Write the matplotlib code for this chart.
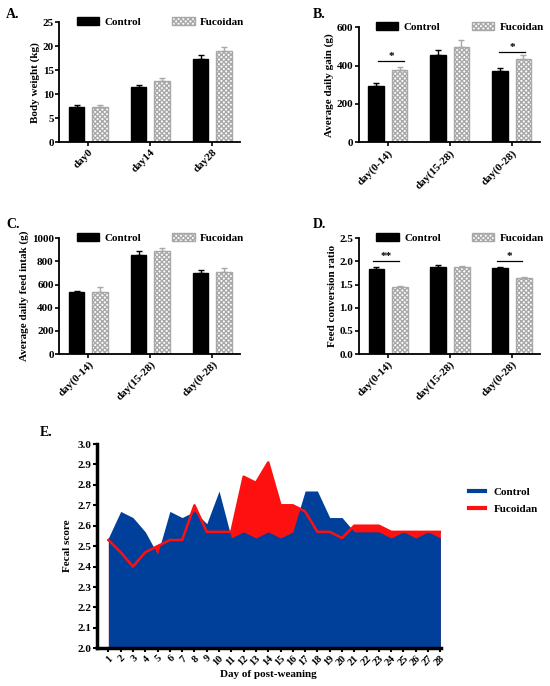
import numpy as np
import matplotlib
matplotlib.use('Agg')
import matplotlib.pyplot as plt
from matplotlib.patches import Patch
from matplotlib.lines import Line2D

plt.rcParams['font.family'] = ['Liberation Serif', 'DejaVu Serif']
plt.rcParams['font.weight'] = 'bold'
plt.rcParams['axes.labelweight'] = 'bold'
plt.rcParams['hatch.linewidth'] = 1.0

# bar panels
periods = ['day(0-14)', 'day(15-28)', 'day(0-28)']
bw_days = ['day0', 'day14', 'day28']

bw_ctrl = [7.4, 11.6, 17.4]
bw_ctrl_err = [0.3, 0.3, 0.7]
bw_fuc = [7.4, 12.7, 19.1]
bw_fuc_err = [0.3, 0.6, 0.8]

adg_ctrl = [295, 456, 371]
adg_ctrl_err = [17, 24, 19]
adg_fuc = [376, 497, 433]
adg_fuc_err = [19, 35, 23]

adfi_ctrl = [537, 856, 697]
adfi_ctrl_err = [5, 37, 26]
adfi_fuc = [539, 890, 712]
adfi_fuc_err = [37, 29, 29]

fcr_ctrl = [1.83, 1.89, 1.86]
fcr_ctrl_err = [0.06, 0.04, 0.02]
fcr_fuc = [1.45, 1.88, 1.64]
fcr_fuc_err = [0.03, 0.02, 0.03]

# fecal score
days = list(range(1, 29))
ctrl_score = [2.54, 2.67, 2.64, 2.57, 2.46, 2.67, 2.64, 2.67, 2.61, 2.77,
              2.54, 2.57, 2.54, 2.57, 2.54, 2.57, 2.77, 2.77, 2.64, 2.64,
              2.57, 2.57, 2.57, 2.54, 2.57, 2.54, 2.57, 2.54]
fuc_score = [2.53, 2.47, 2.40, 2.47, 2.50, 2.53, 2.53, 2.70, 2.57, 2.57,
             2.57, 2.84, 2.81, 2.91, 2.70, 2.70, 2.67, 2.57, 2.57, 2.54,
             2.60, 2.60, 2.60, 2.57, 2.57, 2.57, 2.57, 2.57]

W, H = 550, 686
fig = plt.figure(figsize=(W / 100, H / 100), dpi=100)


def px_axes(left, right, top, bottom):
    return fig.add_axes([left / W, 1 - bottom / H, (right - left) / W, (bottom - top) / H])


fs = 8
gray = '#a8a8a8'
hatch = 'xxxxxxx'


def bar_panel(ax, labels, ctrl, ctrl_err, fuc, fuc_err, ylim, yticks, ylabel, fmt):
    x = np.arange(len(labels))
    w = 0.25
    off = 0.19
    ax.bar(x - off, ctrl, w, color='black', edgecolor='black',
           yerr=[np.zeros(len(ctrl)), ctrl_err],
           error_kw=dict(ecolor='black', capsize=2, elinewidth=1, capthick=1))
    ax.bar(x + off, fuc, w, color='white', edgecolor=gray, hatch=hatch, linewidth=1,
           yerr=[np.zeros(len(fuc)), fuc_err],
           error_kw=dict(ecolor=gray, capsize=2, elinewidth=1, capthick=1))
    ax.set_xlim(-0.47, 2.45)
    ax.set_ylim(*ylim)
    ax.set_yticks(yticks)
    ax.set_yticklabels([fmt.format(t) for t in yticks], fontsize=fs, fontweight='bold')
    ax.set_xticks(x)
    ax.set_xticklabels(labels, rotation=45, ha='right', rotation_mode='anchor',
                       fontsize=fs, fontweight='bold')
    ax.set_ylabel(ylabel, fontsize=fs, fontweight='bold', labelpad=2)
    for s in ['top', 'right']:
        ax.spines[s].set_visible(False)
    for s in ['left', 'bottom']:
        ax.spines[s].set_linewidth(1.3)
    ax.tick_params(direction='out', length=3, width=1.2, pad=1)
    handles = [Patch(facecolor='black', edgecolor='black'),
               Patch(facecolor='white', edgecolor=gray, hatch=hatch)]
    ax.legend(handles, ['Control', 'Fucoidan'], ncol=2, frameon=False,
              loc='center', bbox_to_anchor=(0.56, 1.0),
              handlelength=2.0, handleheight=0.7, columnspacing=2.8,
              handletextpad=0.5, prop=dict(size=fs, weight='bold'))


def sig(ax, xc, y, text, lo=-0.18, hi=0.26):
    ax.plot([xc + lo, xc + hi], [y, y], color='black', lw=0.9)
    ax.text(xc + (lo + hi) / 2, y, text, ha='center', va='bottom', fontsize=8)


axA = px_axes(59.2, 240.2, 22.3, 142.3)
bar_panel(axA, bw_days, bw_ctrl, bw_ctrl_err, bw_fuc, bw_fuc_err,
          (0, 25), [0, 5, 10, 15, 20, 25], 'Body weight (kg)', '{:g}')

axB = px_axes(358.6, 539.6, 27.3, 142.3)
bar_panel(axB, periods, adg_ctrl, adg_ctrl_err, adg_fuc, adg_fuc_err,
          (0, 600), [0, 200, 400, 600], 'Average daily gain (g)', '{:g}')
sig(axB, 0, 425, '*', -0.15, 0.27)
sig(axB, 2, 471, '*', -0.2, 0.22)

axC = px_axes(59.2, 240.2, 238.3, 354)
bar_panel(axC, periods, adfi_ctrl, adfi_ctrl_err, adfi_fuc, adfi_fuc_err,
          (0, 1000), [0, 200, 400, 600, 800, 1000], 'Average daily feed intak (g)', '{:g}')

axD = px_axes(358.9, 539.9, 238.3, 354)
bar_panel(axD, periods, fcr_ctrl, fcr_ctrl_err, fcr_fuc, fcr_fuc_err,
          (0, 2.5), [0, 0.5, 1.0, 1.5, 2.0, 2.5], 'Feed conversion ratio', '{:.1f}')
sig(axD, 0, 2.0, '**', -0.24, 0.17)
sig(axD, 2, 2.0, '*', -0.25, 0.16)

# panel E
blue = '#00409a'
red = '#ff1010'
axE = px_axes(96.7, 441, 444, 648.3)
axE.fill_between(days, 2.0, fuc_score, color=red, lw=0)
axE.fill_between(days, 2.0, ctrl_score, color=blue, lw=0)
axE.plot(days, fuc_score, color=red, lw=1.8)
axE.set_xlim(0.05, 28.05)
axE.set_ylim(2.0, 3.0)
yt = np.round(np.arange(2.0, 3.01, 0.1), 1)
axE.set_yticks(yt)
axE.set_yticklabels(['{:.1f}'.format(t) for t in yt], fontsize=fs, fontweight='bold')
axE.set_xticks(days)
axE.set_xticklabels([str(d) for d in days], rotation=45, ha='right',
                    rotation_mode='anchor', fontsize=7.5, fontweight='bold')
axE.set_xlabel('Day of post-weaning', fontsize=fs, fontweight='bold', labelpad=2)
axE.set_ylabel('Fecal score', fontsize=fs, fontweight='bold', labelpad=4)
for s in ['top', 'right']:
    axE.spines[s].set_visible(False)
for s in ['left', 'bottom']:
    axE.spines[s].set_linewidth(2.5)
axE.tick_params(direction='out', length=3, width=1.5, pad=1)
fig.legend([Line2D([], [], color=blue, lw=3), Line2D([], [], color=red, lw=3)],
           ['Control', 'Fucoidan'], loc='upper left', bbox_to_anchor=(0.835, 0.305),
           frameon=False, handlelength=1.4, labelspacing=0.7, handletextpad=0.8,
           prop=dict(size=fs, weight='bold'))

# panel labels
for lab, (px, py) in {'A.': (6, 14), 'B.': (313, 14), 'C.': (6, 225),
                      'D.': (313, 225), 'E.': (40, 432)}.items():
    fig.text(px / W, 1 - py / H, lab, fontsize=10, fontweight='bold', va='center')

fig.savefig('out.png', dpi=100)
